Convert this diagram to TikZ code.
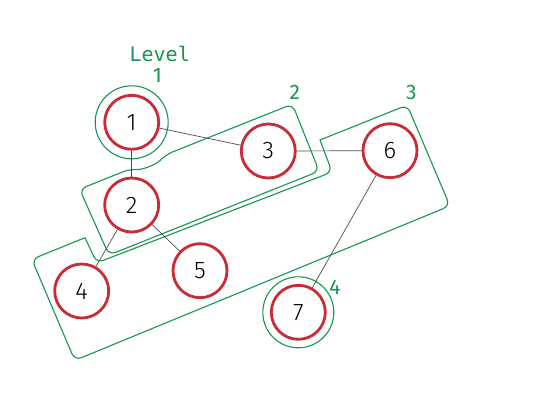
\documentclass[tikz,border=0pt]{standalone}
\usepackage{fontspec}
\setmainfont{Fira Sans}
\newfontfamily\vtxlight{Fira Sans Light}
\newfontfamily\lvlmono{DejaVu Sans Mono}

\definecolor{lvlgreen}{RGB}{22,150,80}
\definecolor{vtxred}{RGB}{200,45,55}
\tikzset{
	vertex/.style={circle, draw=vtxred, line width=2.8pt, fill=white, minimum size=54pt, inner sep=0pt, font=\vtxlight\fontsize{24}{24}\selectfont},
	link/.style={draw=black!70, line width=0.7pt},
	hull/.style={draw=lvlgreen, line width=1.1pt, rounded corners=7pt},
	lvl/.style={text=lvlgreen, inner sep=0pt, font=\fontsize{21}{21}\selectfont}
}

\begin{document}
\begin{tikzpicture}[x=1pt,y=-1pt]
	\useasboundingbox (0,0) rectangle (534,401);
	\draw[hull] (109,255) -- (79.6,189.2) -- (129.4,169.2) arc[start angle=92.8, end angle=43.6, radius=47] -- (292.4,104.1) -- (319.1,171.2) -- cycle;
	\draw[hull] (74.8,360.4) -- (449.9,205.9) -- (407.2,105.1) [sharp corners] -- (320,140) [rounded corners=7pt] -- (332.1,172) -- (96.7,262.9) [sharp corners] -- (85,237.7) [rounded corners=7pt] -- (31.8,259.3) -- cycle;
	\node[vertex] (n1) at (131.7,122.3) {1};
	\node[vertex] (n2) at (131.7,205) {2};
	\node[vertex] (n3) at (268.3,151) {3};
	\node[vertex] (n4) at (81.7,291) {4};
	\node[vertex] (n5) at (200,270.7) {5};
	\node[vertex] (n6) at (390,150.7) {6};
	\node[vertex] (n7) at (298.3,312.3) {7};
	\draw[hull] (n1) circle[radius=36.5];
	\draw[hull] (n7) circle[radius=35.5];
	\draw[link] (n1) -- (n3);
	\draw[link] (n1) -- (n2);
	\draw[link] (n3) -- (n6);
	\draw[link] (n2) -- (n4);
	\draw[link] (n2) -- (n5);
	\draw[link] (n6) -- (n7);
	\node[lvl, font=\lvlmono\fontsize{20}{20}\selectfont] (title) at (159.7,54.2) {Level};
	\node[lvl] (l1) at (157.5,75.8) {1};
	\node[lvl] (l2) at (294.7,92.5) {2};
	\node[lvl] (l3) at (411.3,92.5) {3};
	\node[lvl] (l4) at (335,287) {4};
\end{tikzpicture}
\end{document}
